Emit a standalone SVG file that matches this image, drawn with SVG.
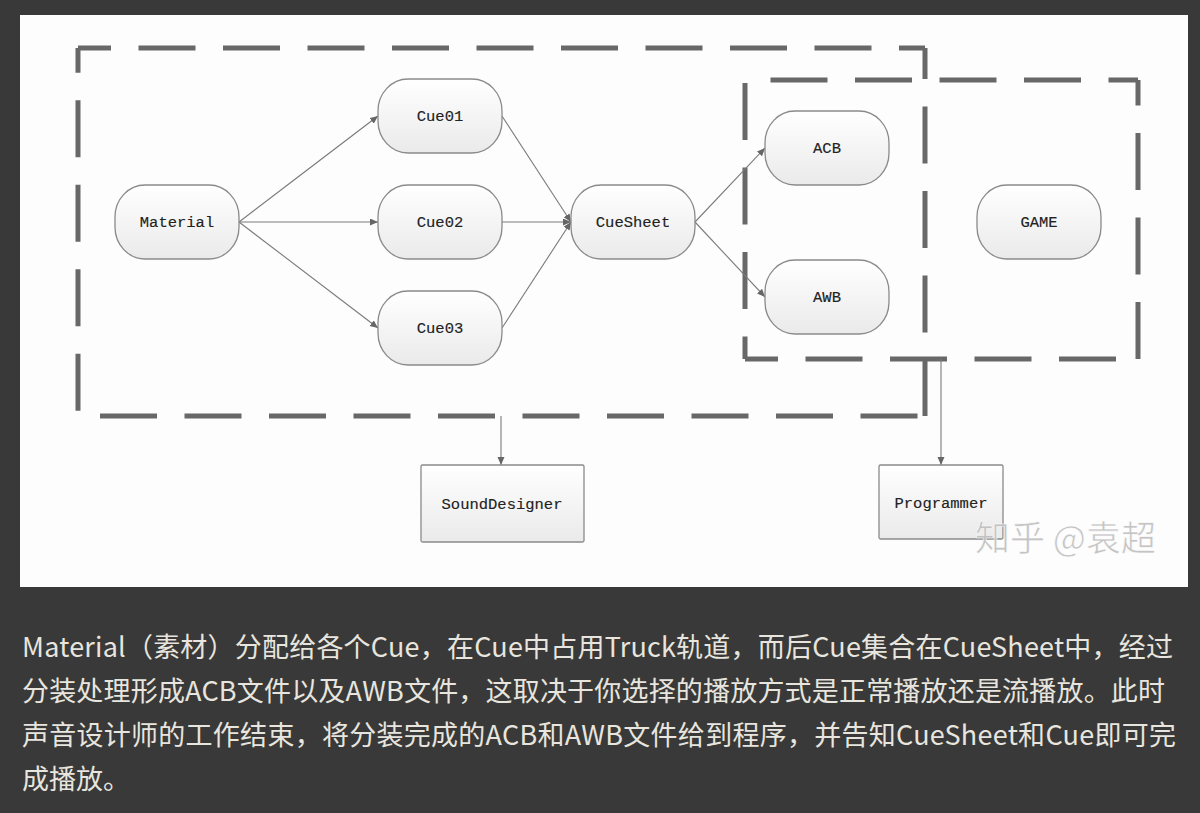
<svg xmlns="http://www.w3.org/2000/svg" width="1200" height="813" viewBox="0 0 1200 813">
<style>
.bg{fill:#393939}
.panel{fill:#fdfdfd}
.dash{fill:none;stroke:#686868;stroke-width:5;stroke-dasharray:57 27.5}
.node{stroke:#8a8a8a;stroke-width:1.3;fill:url(#g)}
.lbl{font-family:"Liberation Mono","DejaVu Sans Mono",monospace;font-size:15.5px;fill:#222222;stroke:#222222;stroke-width:0.15;text-anchor:middle}
.conn{fill:none;stroke:#7a7a7a;stroke-width:1.1;marker-end:url(#ah)}
.para{font-family:"Noto Sans CJK SC","Noto Sans",sans-serif;font-size:27px;fill:#e8e5df}
.wm{font-family:"Noto Sans CJK SC","Noto Sans",sans-serif;font-size:35px;fill:#bebebe;stroke:#ffffff;stroke-width:0.6;opacity:0.9}
</style>
<defs>
<linearGradient id="g" x1="0" y1="0" x2="0" y2="1">
<stop offset="0" stop-color="#ffffff"/>
<stop offset="1" stop-color="#eaeaea"/>
</linearGradient>
<marker id="ah" markerUnits="userSpaceOnUse" markerWidth="9" markerHeight="8" refX="8" refY="3.5" orient="auto">
<path d="M0,0 L8,3.5 L0,7 z" fill="#666666"/>
</marker>
</defs>
<rect class="bg" x="0" y="0" width="1200" height="813"/>
<rect class="panel" x="20" y="15" width="1168" height="572"/>

<g id="group-sound">
<path class="dash" d="M78,48 H925" stroke-dashoffset="24"/>
<path class="dash" d="M78,48 V416" stroke-dashoffset="32.3"/>
<path class="dash" d="M78,416 H925" stroke-dashoffset="62.5"/>
<path class="dash" d="M925,48 V416" stroke-dashoffset="26"/>
</g>
<g id="group-game">
<path class="dash" d="M745,80 H1138" stroke-dashoffset="59"/>
<path class="dash" d="M745,80 V359" stroke-dashoffset="81.5"/>
<path class="dash" d="M745,359 H1138" stroke-dashoffset="24"/>
<path class="dash" d="M1138,80 V359" stroke-dashoffset="31.5"/>
</g>

<g id="connectors">
<path class="conn" d="M239,222 L378,116"/>
<path class="conn" d="M239,222 L378,222"/>
<path class="conn" d="M239,222 L378,328"/>
<path class="conn" d="M502,116 L571,222"/>
<path class="conn" d="M502,222 L571,222"/>
<path class="conn" d="M502,328 L571,222"/>
<path class="conn" d="M695,222 L765,148"/>
<path class="conn" d="M695,222 L765,297"/>
<path class="conn" d="M501,416 L501,465"/>
<path class="conn" d="M941,359 L941,465"/>
</g>

<g id="material"><rect class="node" x="115" y="185" width="124" height="74" rx="30" ry="32"/><text class="lbl" x="177" y="227">Material</text></g>
<g id="cue01"><rect class="node" x="378" y="79" width="124" height="74" rx="30" ry="32"/><text class="lbl" x="440" y="121">Cue01</text></g>
<g id="cue02"><rect class="node" x="378" y="185" width="124" height="74" rx="30" ry="32"/><text class="lbl" x="440" y="227">Cue02</text></g>
<g id="cue03"><rect class="node" x="378" y="291" width="124" height="74" rx="30" ry="32"/><text class="lbl" x="440" y="333">Cue03</text></g>
<g id="cuesheet"><rect class="node" x="571" y="185" width="124" height="74" rx="30" ry="32"/><text class="lbl" x="633" y="227">CueSheet</text></g>
<g id="acb"><rect class="node" x="765" y="111" width="124" height="74" rx="30" ry="32"/><text class="lbl" x="827" y="153">ACB</text></g>
<g id="awb"><rect class="node" x="765" y="260" width="124" height="74" rx="30" ry="32"/><text class="lbl" x="827" y="302">AWB</text></g>
<g id="game"><rect class="node" x="977" y="185" width="124" height="74" rx="30" ry="32"/><text class="lbl" x="1039" y="227">GAME</text></g>
<g id="sounddesigner"><rect class="node" x="421" y="465" width="163" height="77" rx="1.5"/><text class="lbl" x="502" y="509">SoundDesigner</text></g>
<g id="programmer"><rect class="node" x="879" y="465" width="124" height="74" rx="1.5"/><text class="lbl" x="941" y="508">Programmer</text></g>

<text class="wm" x="975" y="551">知乎 @袁超</text>

<g id="caption">
<text class="para" x="22" y="657" textLength="1151" lengthAdjust="spacing">Material（素材）分配给各个Cue，在Cue中占用Truck轨道，而后Cue集合在CueSheet中，经过</text>
<text class="para" x="22" y="701" textLength="1143" lengthAdjust="spacing">分装处理形成ACB文件以及AWB文件，这取决于你选择的播放方式是正常播放还是流播放。此时</text>
<text class="para" x="22" y="745" textLength="1154" lengthAdjust="spacing">声音设计师的工作结束，将分装完成的ACB和AWB文件给到程序，并告知CueSheet和Cue即可完</text>
<text class="para" x="22" y="789">成播放。</text>
</g>
</svg>
